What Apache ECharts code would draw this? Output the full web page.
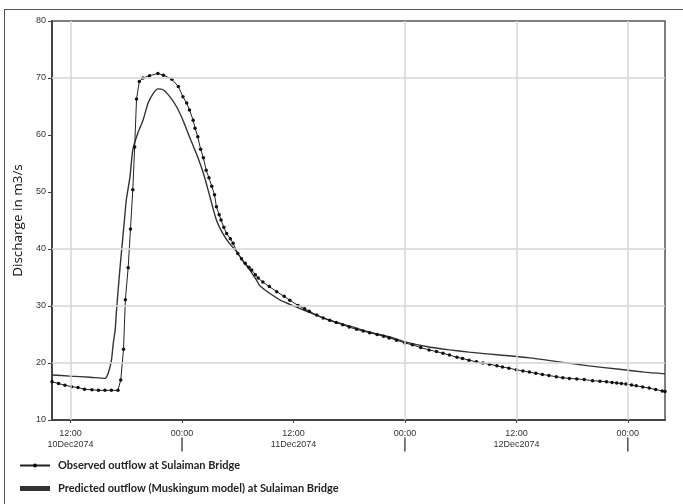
<!DOCTYPE html>
<html>
<head>
<meta charset="utf-8">
<script src="https://cdn.jsdelivr.net/npm/echarts@6/dist/echarts.min.js"></script>
<style>
  html, body { margin: 0; padding: 0; background: #fff; }
  #frame { position: absolute; left: 4px; top: 9px; width: 700px; height: 520px; border: 1.5px solid #555; }
  #chart { position: absolute; left: 0; top: 0; width: 683px; height: 504px; }
</style>
</head>
<body>
<div id="frame"></div>
<div id="chart"></div>
<script>
// hours counted from 10Dec2074 00:00
const tickHours = [12, 24, 36, 48, 60, 72];
const yTicks = [10, 20, 30, 40, 50, 60, 70, 80];
// grid lines that are visible in the original figure
const gridHours = [12, 48, 60, 72];
const gridValues = [20, 30, 40, 70];

const obsHours = [10.0, 10.7, 11.4, 12.1, 12.8, 13.5, 14.3, 15.0, 15.7, 16.4, 17.1, 17.4, 17.7, 17.9, 18.2, 18.45,
  18.7, 18.9, 19.1, 19.4, 19.8, 20.5, 21.4, 22.0, 22.9, 23.6, 24.1, 24.5, 24.8, 25.2, 25.4, 25.7, 26.0, 26.3,
  26.6, 26.9, 27.2, 27.5, 27.7, 28.0, 28.2, 28.5, 28.8, 29.2, 29.5, 30.0, 30.4, 30.8, 31.2, 31.5, 31.9, 32.2,
  32.7, 33.4, 34.2, 35.0, 35.6, 36.5, 37.2, 37.7, 38.5, 39.2, 39.9, 40.6, 41.3, 42.0, 42.8, 43.5, 44.2, 45.0,
  45.7, 46.3, 47.1, 48.0, 48.8, 49.7, 50.6, 51.4, 52.1, 52.8, 53.6, 54.2, 54.9, 55.7, 56.4, 57.1, 57.9, 58.5,
  59.2, 60.0, 60.7, 61.4, 62.1, 62.8, 63.5, 64.3, 65.0, 65.7, 66.5, 67.3, 68.2, 69.0, 69.7, 70.3, 70.8, 71.3,
  71.8, 72.4, 72.9, 73.6, 74.3, 75.0, 75.7, 76.0];
const obsValues = [16.7, 16.4, 16.1, 15.85, 15.7, 15.4, 15.3, 15.2, 15.2, 15.2, 15.2, 17.0, 22.4, 31.1, 36.7, 43.5,
  50.4, 57.9, 66.3, 69.4, 70.0, 70.4, 70.8, 70.5, 69.8, 68.5, 66.7, 65.6, 64.4, 62.6, 61.2, 59.7, 57.5, 56.0,
  53.8, 52.5, 51.0, 49.5, 47.4, 46.0, 45.1, 43.8, 42.7, 41.8, 41.0, 39.2, 38.3, 37.5, 36.8, 36.3, 35.5, 34.9,
  34.2, 33.4, 32.5, 31.7, 31.0, 30.1, 29.5, 29.1, 28.4, 27.9, 27.5, 27.1, 26.7, 26.3, 25.9, 25.6, 25.3, 25.0,
  24.7, 24.4, 24.0, 23.5, 23.2, 22.7, 22.3, 22.0, 21.7, 21.4, 21.0, 20.8, 20.5, 20.2, 20.0, 19.8, 19.5, 19.3,
  19.1, 18.8, 18.6, 18.4, 18.2, 18.0, 17.8, 17.6, 17.4, 17.3, 17.2, 17.1, 16.9, 16.8, 16.7, 16.6, 16.5, 16.4,
  16.3, 16.15, 16.0, 15.8, 15.6, 15.35, 15.1, 15.0];

const predHours = [10.0, 11.9, 14.1, 15.7, 16.05, 16.4, 16.6, 16.8, 16.95, 17.3, 17.7, 18.0, 18.4, 18.7, 19.3,
  19.8, 20.35, 20.9, 21.4, 22.0, 22.7, 23.4, 24.1, 24.8, 25.6, 26.3, 27.0, 27.7, 28.4, 29.1, 29.9, 30.6, 31.3,
  32.0, 32.4, 34.5, 35.6, 37.7, 39.9, 42.0, 44.2, 46.3, 48.0, 50.6, 52.8, 54.9, 58.2, 61.4, 64.6, 67.8, 71.1,
  73.8, 76.0];
const predValues = [17.9, 17.7, 17.5, 17.3, 18.2, 20.5, 23.5, 25.8, 29.3, 36.3, 43.3, 48.6, 52.7, 57.4, 60.6,
  62.6, 65.6, 67.3, 68.1, 67.9, 66.7, 65.0, 62.6, 59.7, 56.5, 53.3, 49.2, 45.1, 42.7, 41.0, 39.5, 37.8, 36.3,
  34.6, 33.5, 31.1, 30.3, 28.9, 27.5, 26.5, 25.4, 24.6, 23.7, 22.8, 22.3, 21.9, 21.4, 20.9, 20.2, 19.5, 18.9,
  18.4, 18.1];

const obsName = 'Observed outflow at Sulaiman Bridge';
const predName = 'Predicted outflow (Muskingum model) at Sulaiman Bridge';

const chart = echarts.init(document.getElementById('chart'));

const gridLines = gridValues.map(v => ({ yAxis: v })).concat(gridHours.map(h => ({ xAxis: h })));

chart.setOption({
  animation: false,
  grid: {
    left: 52, right: 18, top: 21, bottom: 84,
    show: true, borderColor: '#555', borderWidth: 1.5
  },
  legend: {
    orient: 'vertical',
    left: 14, top: 455,
    height: 48,
    itemGap: 12,
    itemWidth: 30, itemHeight: 5,
    textStyle: { fontFamily: 'Lato, sans-serif', fontWeight: 'bold', fontSize: 11, color: '#222', padding: [0, 0, 0, 3] },
    data: [
      { name: obsName },
      { name: predName, icon: 'rect', itemStyle: { color: '#333' } }
    ]
  },
  xAxis: {
    type: 'value',
    min: 10, max: 76,
    splitLine: { show: false },
    axisLine: { show: true, onZero: false, lineStyle: { color: '#444', width: 2 } },
    axisTick: { show: true, customValues: tickHours, length: 3, lineStyle: { color: '#444' } },
    axisLabel: {
      customValues: tickHours,
      margin: 8,
      color: '#333',
      fontFamily: 'Liberation Sans, Arial, sans-serif',
      fontSize: 9,
      lineHeight: 11,
      formatter: function (v) {
        if (v % 24 === 12) {
          return '12:00\n' + (10 + Math.floor(v / 24)) + 'Dec2074';
        }
        return '00:00\n{bar|}';
      },
      rich: {
        bar: { width: 1.2, height: 14, backgroundColor: '#222' }
      }
    }
  },
  yAxis: {
    type: 'value',
    min: yTicks[0], max: yTicks[yTicks.length - 1], interval: 10,
    splitLine: { show: false },
    name: 'Discharge in m3/s',
    nameLocation: 'middle',
    nameGap: 26,
    nameTextStyle: { fontFamily: 'Open Sans, sans-serif', fontSize: 13.5, color: '#111' },
    axisLine: { show: true, lineStyle: { color: '#444', width: 2 } },
    axisTick: { show: true, length: 4, lineStyle: { color: '#444' } },
    axisLabel: { margin: 6, color: '#333', fontFamily: 'Liberation Sans, Arial, sans-serif', fontSize: 9 }
  },
  series: [
    {
      name: 'grid',
      type: 'line',
      data: [],
      markLine: {
        silent: true,
        symbol: ['none', 'none'],
        label: { show: false },
        lineStyle: { type: 'solid', color: '#d6d6d6', width: 1.5 },
        data: gridLines
      }
    },
    {
      name: obsName,
      type: 'line',
      data: obsHours.map((h, i) => [h, obsValues[i]]),
      symbol: 'circle',
      symbolSize: 3.5,
      showSymbol: true,
      itemStyle: { color: '#111' },
      lineStyle: { color: '#222', width: 1 },
      z: 3
    },
    {
      name: predName,
      type: 'line',
      data: predHours.map((h, i) => [h, predValues[i]]),
      symbol: 'none',
      smooth: 0.2,
      itemStyle: { color: '#333' },
      lineStyle: { color: '#333', width: 1.4 },
      z: 2
    }
  ]
});
</script>
</body>
</html>
